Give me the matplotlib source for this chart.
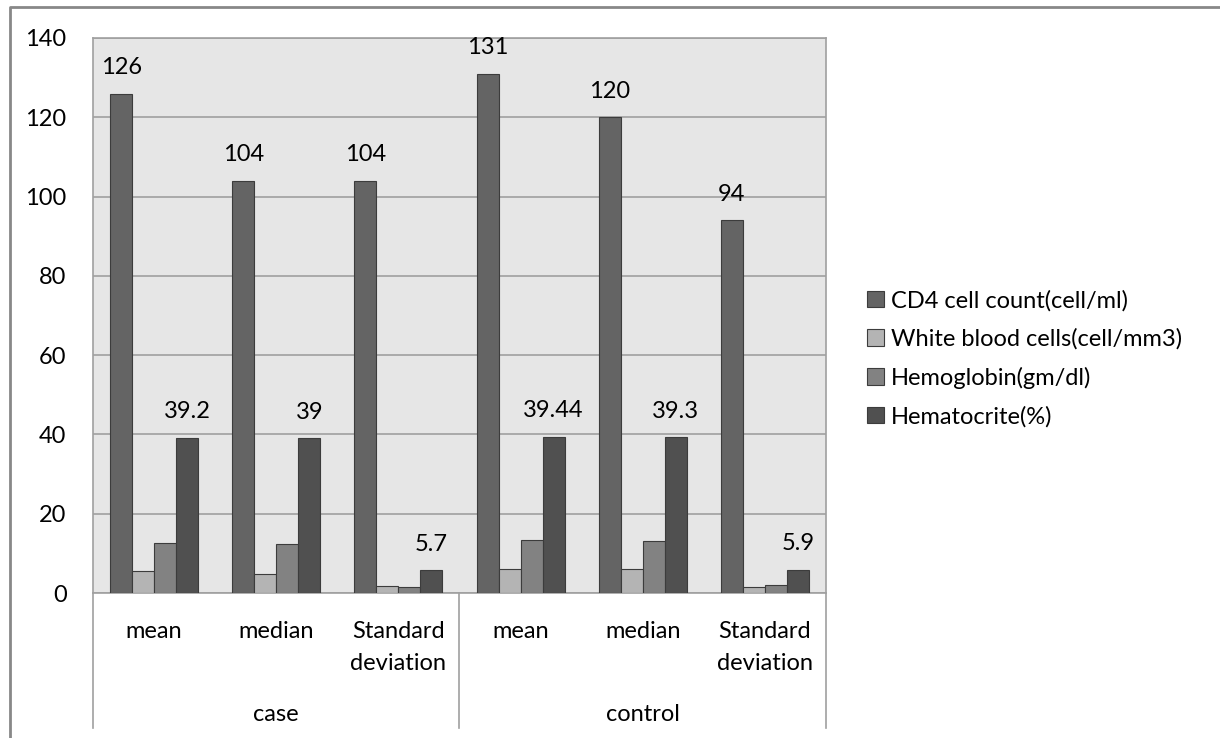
import numpy as np
import matplotlib
matplotlib.use("Agg")
from matplotlib import pyplot as plt
from matplotlib.lines import Line2D

plt.rcParams['font.family'] = ['Lato', 'DejaVu Sans']

groups = ['case', 'control']
stats = ['mean', 'median', 'Standard\ndeviation']
series = ['CD4 cell count(cell/ml)', 'White blood cells(cell/mm3)',
          'Hemoglobin(gm/dl)', 'Hematocrite(%)']
cd4 = [126, 104, 104, 131, 120, 94]
wbc = [5.5, 4.9, 1.8, 6.0, 6.0, 1.5]
hgb = [12.6, 12.4, 1.6, 13.3, 13.1, 2.0]
hct = [39.2, 39, 5.7, 39.44, 39.3, 5.9]
labelled = {0: ['126', '104', '104', '131', '120', '94'],
            3: ['39.2', '39', '5.7', '39.44', '39.3', '5.9']}
colors = ['#646464', '#b4b4b4', '#828282', '#505050']

fs = 17
fig = plt.figure(figsize=(12.2, 7.38), dpi=100)
ax = fig.add_axes([93/1220, 1-593/738, 733/1220, 555/738])
ax.set_facecolor('#e6e6e6')

x = np.arange(6)
w = 0.18
for k, vals in enumerate([cd4, wbc, hgb, hct]):
    pos = x + (k - 1.5) * w
    ax.bar(pos, vals, w, color=colors[k], edgecolor='#3c3c3c', linewidth=0.8,
           label=series[k], zorder=3)
    if k in labelled:
        for p, v, t in zip(pos, vals, labelled[k]):
            ax.annotate(t, (p, v), xytext=(0, 14), textcoords='offset points',
                        ha='center', va='baseline', fontsize=fs)

ax.set_xlim(-0.5, 5.5)
ax.set_ylim(0, 140)
ax.set_yticks(range(0, 141, 20))
ax.tick_params(axis='y', length=0, pad=19, labelsize=fs)
ax.set_xticks([])
ax.grid(axis='y', color='#a0a0a0', linewidth=1.2, zorder=0)
for s in ax.spines.values():
    s.set_color('#a0a0a0')
    s.set_linewidth(1.2)

# category labels (two levels)
for i, lab in enumerate(stats * 2):
    ax.text(i, -0.05, lab, transform=ax.get_xaxis_transform(), ha='center',
            va='top', fontsize=fs, linespacing=1.65)
for j, g in enumerate(groups):
    ax.text(1 + 3 * j, -0.2, g, transform=ax.get_xaxis_transform(), ha='center',
            va='top', fontsize=fs)
for xs in [-0.5, 2.5, 5.5]:
    ax.add_line(Line2D([xs, xs], [0, -0.243], transform=ax.get_xaxis_transform(),
                       color='#a0a0a0', linewidth=1.2, clip_on=False))

ax.legend(loc='center left', bbox_to_anchor=(858/733 - 93/733, 0.5 - 43/555),
          frameon=False, fontsize=fs, handlelength=0.7, handleheight=0.7,
          handletextpad=0.3, labelspacing=0.72, borderaxespad=0)

# outer chart frame
fig.add_artist(Line2D([10/1220, 10/1220, 1.0], [0, 1-7/738, 1-7/738],
                      transform=fig.transFigure, color='#888888', linewidth=2))

fig.savefig('out.png', dpi=100)
